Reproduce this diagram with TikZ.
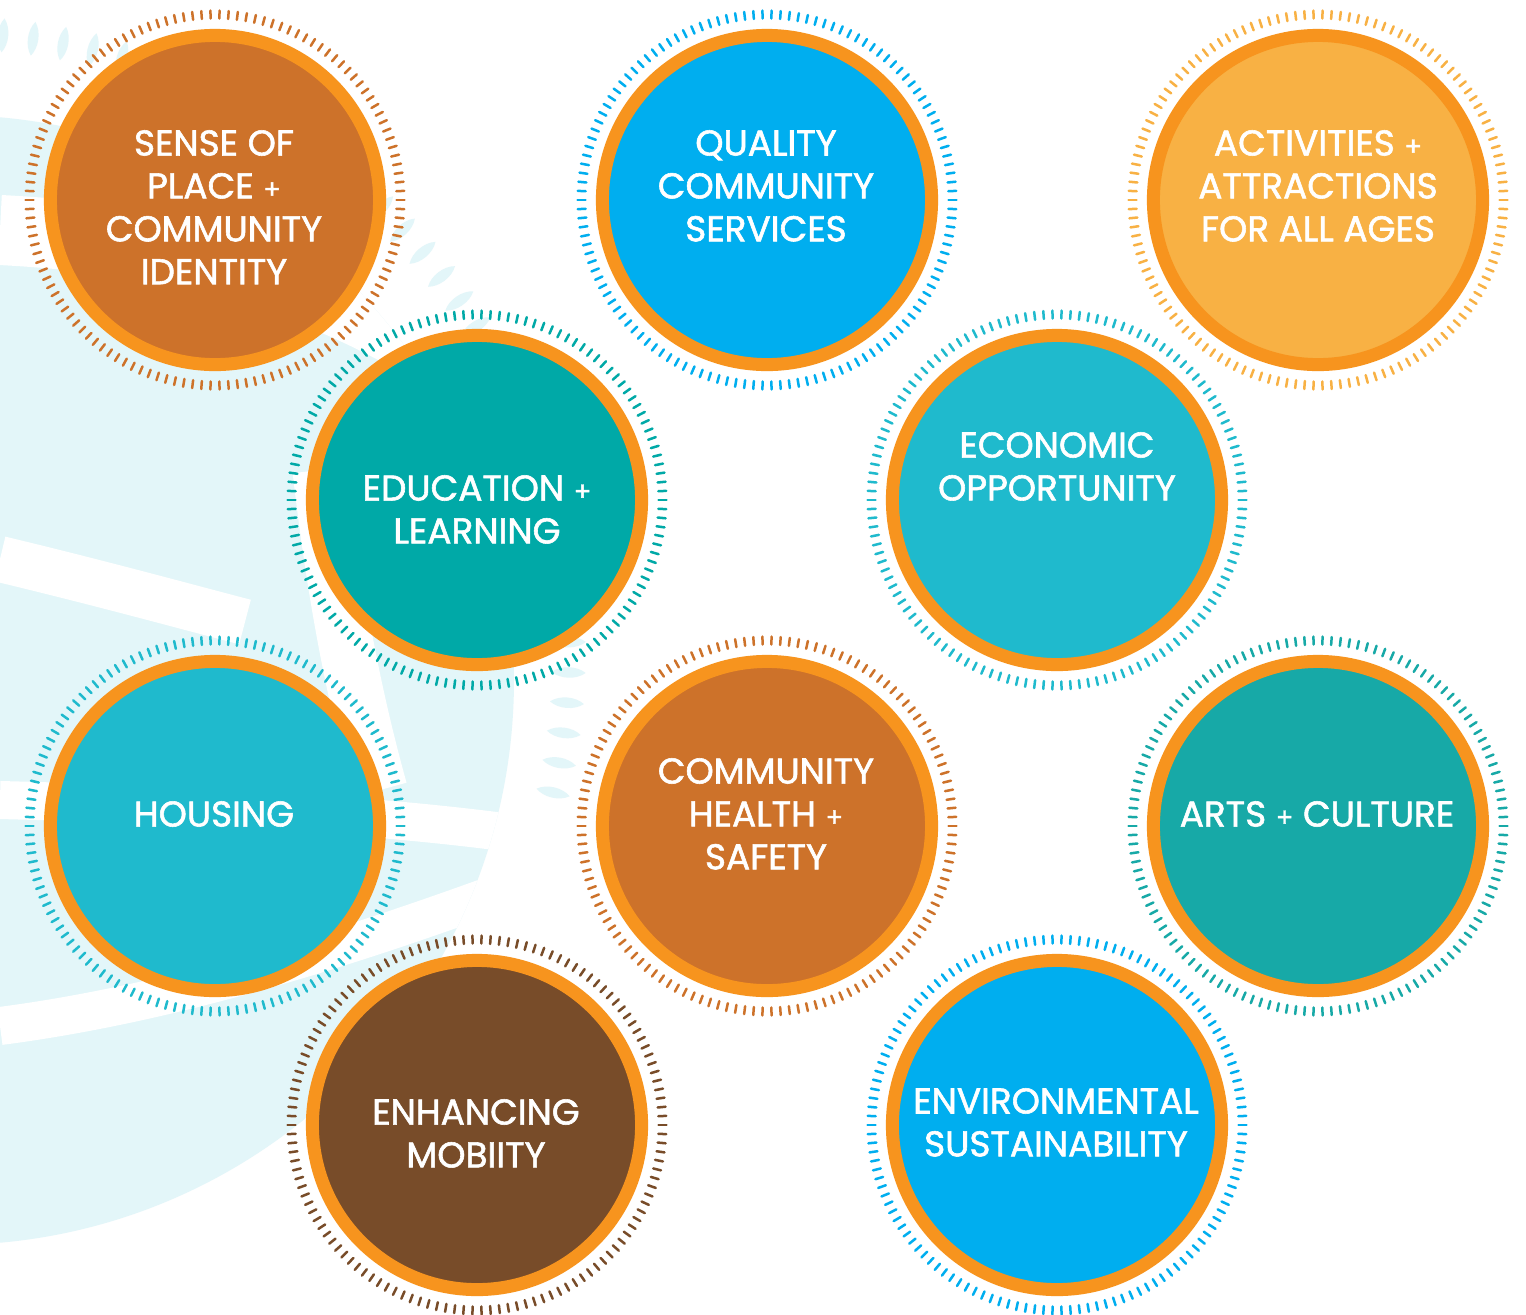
\documentclass[tikz,border=0pt]{standalone}
\usepackage{fontspec}
\setmainfont{Poppins}
\newfontfamily\capfont{Poppins}[FakeBold=1.6]
\usetikzlibrary{positioning}

\definecolor{ringorange}{RGB}{247,148,30}
\definecolor{rust}{RGB}{205,114,42}
\definecolor{skyblue}{RGB}{0,174,239}
\definecolor{apricot}{RGB}{248,177,68}
\definecolor{deepteal}{RGB}{0,169,167}
\definecolor{aqua}{RGB}{31,186,205}
\definecolor{seateal}{RGB}{23,169,167}
\definecolor{cocoa}{RGB}{120,76,41}
\definecolor{mist}{RGB}{227,246,249}

\tikzset{
  disc/.style={circle, draw=ringorange, line width=0.13cm, minimum size=3.29cm, inner sep=0pt},
  caption/.style={text=white, align=center, anchor=north, inner sep=0pt,
    font=\capfont\fontsize{10.2pt}{12.2pt}\selectfont},
  tick/.style={line width=0.025cm, line cap=round},
  band/.style={draw=white, line cap=butt},
}

% small plus sign of the captions
\newcommand\smallplus{\scalebox{0.72}{+}}

% ring of small marks round a disc
\newcommand\tickring[2]{%
  \foreach \a in {0,...,129}
    \draw[tick,#2] (#1.center) ++(\a*2.76923:181.5) -- ++(\a*2.76923:8);
}

\begin{document}
\begin{tikzpicture}[x=0.01cm, y=0.01cm]
  \useasboundingbox (0,0) rectangle (1526,-1314);
  \fill[white] (0,0) rectangle (1526,-1314);

  % background sun
  \coordinate (sun) at (-51,-680);
  \fill[mist] (sun) circle (565);
  \begin{scope}
    \clip (sun) circle (565);
    \draw[band, line width=0.7cm] (0,-230) .. controls (200,-240) and (380,-290) .. (540,-430);
    \draw[band, line width=0.46cm] (0,-559) .. controls (100,-583) and (180,-605) .. (245,-622);
    \draw[band, line width=0.55cm] (320,-470) .. controls (335,-600) and (355,-700) .. (380,-790);
    \draw[band, line width=0.38cm] (0,-800) .. controls (200,-805) and (400,-815) .. (560,-840);
    \draw[band, line width=0.38cm] (0,-1026) .. controls (200,-1000) and (400,-930) .. (560,-870);
  \end{scope}
  \foreach \a in {-13,-10.2,...,92}
    \fill[mist, shift={(-51,-653)}, rotate=\a]
      (603,0) .. controls (612,7) and (628,7) .. (637,0)
      .. controls (628,-7) and (612,-7) .. (603,0);

  % discs
  \node[disc, fill=rust]     (sense)   at (215,-200)  {};
  \node[disc, fill=skyblue]  (quality) at (767,-200)  {};
  \node[disc, fill=apricot]  (leisure) at (1318,-200) {};
  \node[disc, fill=deepteal] (school)  at (477,-500)  {};
  \node[disc, fill=aqua]     (economy) at (1057,-500) {};
  \node[disc, fill=aqua]     (housing) at (215,-826)  {};
  \node[disc, fill=rust]     (health)  at (767,-826)  {};
  \node[disc, fill=seateal]  (arts)    at (1318,-826) {};
  \node[disc, fill=cocoa]    (mobility) at (477,-1125) {};
  \node[disc, fill=skyblue]  (green)   at (1057,-1125) {};

  \tickring{sense}{rust}
  \tickring{quality}{skyblue}
  \tickring{leisure}{apricot}
  \tickring{school}{deepteal}
  \tickring{economy}{aqua}
  \tickring{housing}{aqua}
  \tickring{health}{rust}
  \tickring{arts}{seateal}
  \tickring{mobility}{cocoa}
  \tickring{green}{skyblue}

  % captions
  \node[caption] (sense-t)    at (214,-129.5)  {SENSE OF\\PLACE \smallplus\\COMMUNITY\\IDENTITY};
  \node[caption] (quality-t)  at (766,-129.5)  {QUALITY\\COMMUNITY\\SERVICES};
  \node[caption] (leisure-t)  at (1318,-129.5) {ACTIVITIES \smallplus\\ATTRACTIONS\\FOR ALL AGES};
  \node[caption] (school-t)   at (477,-474.5)  {EDUCATION \smallplus\\LEARNING};
  \node[caption] (economy-t)  at (1057,-431.5) {ECONOMIC\\OPPORTUNITY};
  \node[caption] (housing-t)  at (214,-800.5)  {HOUSING};
  \node[caption] (health-t)   at (766,-757.5)  {COMMUNITY\\HEALTH \smallplus\\SAFETY};
  \node[caption] (arts-t)     at (1317,-800.5) {ARTS \smallplus{} CULTURE};
  \node[caption] (mobility-t) at (476,-1098.5) {ENHANCING\\MOBIITY};
  \node[caption] (green-t)    at (1056,-1087.5) {ENVIRONMENTAL\\SUSTAINABILITY};
\end{tikzpicture}
\end{document}
